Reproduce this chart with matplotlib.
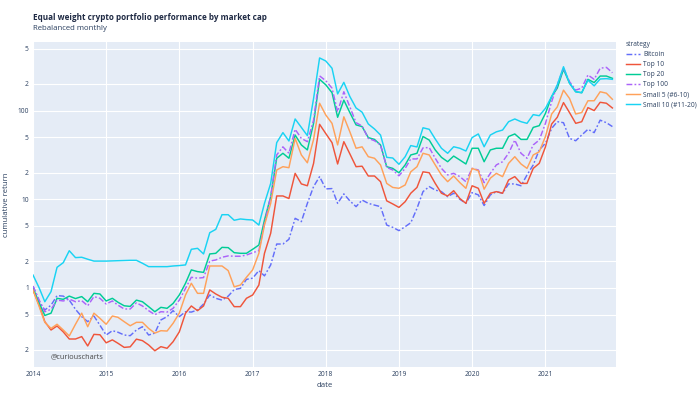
import matplotlib
matplotlib.use("Agg")
import matplotlib.pyplot as plt
import matplotlib.ticker as mticker
import pandas as pd
import numpy as np

dates = pd.date_range("2014-01-01", periods=96, freq="MS")

bitcoin = [1.05, 0.70, 0.565, 0.64, 0.82, 0.81, 0.73, 0.575, 0.475, 0.417, 0.483, 0.38,
           0.295, 0.33, 0.317, 0.295, 0.29, 0.336, 0.366, 0.295, 0.31, 0.436, 0.475, 0.555,
           0.475, 0.54, 0.535, 0.565, 0.66, 0.834, 0.765, 0.73, 0.81, 0.96, 0.99, 1.25,
           1.29, 1.57, 1.37, 1.82, 3.13, 3.13, 3.54, 6.1, 5.6, 9.0, 13.9, 18.0,
           13.1, 13.2, 9.0, 11.5, 9.6, 8.26, 9.8, 9.0, 8.6, 8.26, 5.12, 4.83,
           4.43, 4.91, 5.44, 7.9, 12.2, 13.9, 12.7, 12.2, 10.7, 11.7, 10.0, 9.0,
           11.9, 11.2, 8.5, 11.2, 12.2, 11.7, 14.9, 14.9, 14.2, 18.8, 24.4, 36,
           42.8, 63, 75, 73, 48.6, 45.7, 53, 61.5, 56.4, 78, 73, 66]

top10 = [0.95, 0.64, 0.417, 0.336, 0.373, 0.32, 0.266, 0.266, 0.283, 0.222, 0.30, 0.297,
         0.241, 0.26, 0.238, 0.214, 0.217, 0.265, 0.255, 0.228, 0.196, 0.218, 0.209, 0.248,
         0.32, 0.52, 0.627, 0.555, 0.627, 0.95, 0.856, 0.786, 0.765, 0.616, 0.616, 0.765,
         0.834, 1.08, 2.46, 4.14, 10.9, 10.9, 10.2, 19.6, 14.9, 14.2, 25.4, 70,
         55, 43.5, 25, 44.6, 32.5, 23.3, 23.6, 18.3, 18.3, 15.8, 9.6, 8.86,
         8.1, 9.4, 11.7, 13.6, 20.4, 19.9, 15.1, 11.7, 10.9, 12.5, 10.2, 9.0,
         14.2, 13.3, 9.0, 11.7, 12.2, 11.7, 16.5, 18, 15.1, 15.1, 22.3, 25.4,
         39, 70.6, 84, 123, 95, 71.8, 74.9, 108, 100, 124, 121, 107]

top20 = [1.0, 0.68, 0.49, 0.52, 0.765, 0.745, 0.81, 0.76, 0.80, 0.70, 0.87, 0.856,
         0.714, 0.765, 0.69, 0.63, 0.62, 0.73, 0.70, 0.616, 0.54, 0.605, 0.59, 0.67,
         0.834, 1.13, 1.60, 1.53, 1.50, 2.42, 2.46, 2.87, 2.85, 2.5, 2.46, 2.46,
         2.73, 3.05, 5.84, 10.7, 29, 33, 29, 53, 41, 36, 71.8, 225,
         195, 159, 84, 131, 95, 69, 66, 49.6, 47.3, 41, 23.3, 22.3,
         19.9, 24.4, 31.6, 33, 51, 46.5, 36, 29.7, 26.5, 30.7, 27.7, 25,
         37.6, 37.6, 26.5, 36, 37.6, 37.6, 51, 54.5, 47.3, 47.3, 64.6, 67.6,
         93, 144, 179, 292, 204, 163, 159, 225, 207, 245, 245, 231]

top100 = [1.05, 0.73, 0.54, 0.575, 0.73, 0.714, 0.75, 0.70, 0.72, 0.63, 0.80, 0.765,
          0.66, 0.714, 0.64, 0.58, 0.58, 0.68, 0.627, 0.555, 0.50, 0.54, 0.535, 0.59,
          0.73, 0.99, 1.32, 1.29, 1.31, 2.01, 2.07, 2.22, 2.30, 2.28, 2.28, 2.35,
          2.50, 2.63, 5.35, 10.7, 31.6, 39, 33, 61.5, 48.6, 44.6, 78, 246,
          217, 179, 97, 163, 110, 73, 67, 48.6, 45.7, 41, 22.9, 21.4,
          18.4, 22.3, 28.5, 28.5, 38, 38.3, 29, 22.3, 18.8, 19.6, 18.0, 15.8,
          22.3, 21.4, 15.4, 19.6, 24.4, 26.5, 33, 46.5, 33, 29, 41, 46.5,
          71.8, 126, 195, 300, 212, 170, 179, 252, 225, 300, 307, 267]

small5 = [0.95, 0.616, 0.41, 0.35, 0.39, 0.336, 0.288, 0.39, 0.52, 0.366, 0.52, 0.455,
          0.39, 0.483, 0.467, 0.417, 0.375, 0.41, 0.41, 0.35, 0.31, 0.33, 0.327, 0.40,
          0.52, 0.834, 1.13, 0.87, 0.87, 1.77, 1.77, 1.77, 1.57, 1.03, 1.08, 1.32,
          1.60, 2.46, 5.12, 9.0, 21.4, 23.3, 22.7, 48.6, 31.6, 25.8, 47.3, 121,
          89, 71.8, 41, 85, 57.6, 37.6, 39, 30.2, 29, 24.4, 15.1, 13.6,
          13.3, 14.5, 20.4, 23.3, 33, 31.6, 24.4, 18.8, 15.8, 18.3, 15.4, 13.3,
          22.3, 21, 13.0, 17.3, 19.6, 18.0, 25.4, 30.2, 25, 22.3, 31.6, 34.3,
          51, 91.5, 110, 170, 137, 91.5, 95, 129, 129, 163, 157, 134]

small10 = [1.40, 1.00, 0.70, 0.91, 1.71, 1.93, 2.63, 2.20, 2.22, 2.11, 2.01, 2.01,
           2.01, 2.02, 2.03, 2.04, 2.05, 2.05, 1.90, 1.74, 1.74, 1.74, 1.74, 1.77,
           1.79, 1.82, 2.73, 2.80, 2.42, 4.20, 4.58, 6.7, 6.7, 5.8, 6.0, 5.9,
           5.84, 5.12, 9.0, 15.1, 43.5, 56.4, 45.4, 80.4, 64.6, 52.2, 137, 392,
           362, 300, 154, 208, 144, 107, 96, 70.6, 62.0, 53, 29.7, 29.2,
           24.8, 30.2, 40.3, 38.9, 64, 61.5, 47.8, 37.6, 33, 39.1, 37.6, 35.0,
           49.6, 54.5, 39.1, 53, 57.6, 60.3, 74.9, 80.4, 74.9, 71.8, 90, 87.5,
           106, 144, 195, 312, 204, 163, 159, 220, 190, 227, 229, 225]

series_names = ["Bitcoin", "Top 10", "Top 20", "Top 100", "Small 5 (#6-10)", "Small 10 (#11-20)"]
series_values = [bitcoin, top10, top20, top100, small5, small10]
colors = ["#636EFA", "#EF553B", "#00CC96", "#AB63FA", "#FFA15A", "#19D3F3"]
styles = [(0, (4, 1.5, 1.2, 1.5)), "-", "-", (0, (4, 1.5, 1.2, 1.5)), "-", "-"]

ytick_vals = [0.2, 0.5, 1, 2, 5, 10, 20, 50, 100, 200, 500]
ytick_labels = ["2", "5", "1", "2", "5", "10", "2", "5", "100", "2", "5"]
xtick_years = [2014, 2015, 2016, 2017, 2018, 2019, 2020, 2021]

plt.rcParams["font.family"] = ["Open Sans", "DejaVu Sans"]
TXT = "#2a3f5f"

fig = plt.figure(figsize=(7.0, 4.01), dpi=100)
ax = fig.add_axes([33 / 700, 1 - 367 / 401, (616 - 33) / 700, (367 - 42) / 401])
ax.set_facecolor("#E5ECF6")
for s in ax.spines.values():
    s.set_visible(False)

for name, vals, c, ls in zip(series_names, series_values, colors, styles):
    ax.plot(dates, vals, color=c, lw=1.05, ls=ls, label=name)

ax.set_yscale("log")
ax.set_ylim(0.1286, 593)
ax.set_xlim(dates[0], dates[-1] + pd.Timedelta(days=18))
ax.yaxis.set_major_locator(mticker.FixedLocator(ytick_vals))
ax.yaxis.set_major_formatter(mticker.FixedFormatter(ytick_labels))
ax.yaxis.set_minor_locator(mticker.NullLocator())
ax.set_xticks([pd.Timestamp(f"{y}-01-01") for y in xtick_years])
ax.set_xticklabels([str(y) for y in xtick_years])
ax.grid(True, color="white", lw=0.8)
ax.set_axisbelow(True)
ax.tick_params(axis="both", length=0, labelsize=4.8, colors=TXT, pad=3)

ax.set_ylabel("cumulative return", fontsize=5.6, color=TXT, labelpad=5)
ax.set_xlabel("date", fontsize=5.6, color=TXT, labelpad=3)

ax.text(0.03, 0.03, "@curiouscharts", transform=ax.transAxes, fontsize=5.2,
        color="#444444", ha="left", va="center")

fig.text(33 / 700, 1 - 17 / 401, "Equal weight crypto portfolio performance by market cap",
         fontsize=5.9, fontweight="bold", color="#1f2a44", ha="left", va="center")
fig.text(33 / 700, 1 - 28 / 401, "Rebalanced monthly", fontsize=5.6, color=TXT,
         ha="left", va="center")

leg = fig.legend(loc="upper left", bbox_to_anchor=(626 / 700, 1 - 41 / 401), frameon=False,
                 title="strategy", fontsize=4.8, title_fontsize=4.8, handlelength=2.1,
                 handletextpad=0.5, labelspacing=0.45, borderaxespad=0, borderpad=0)
leg._legend_box.align = "left"
for t in leg.get_texts():
    t.set_color(TXT)
leg.get_title().set_color(TXT)

fig.savefig("out.png", dpi=100)
